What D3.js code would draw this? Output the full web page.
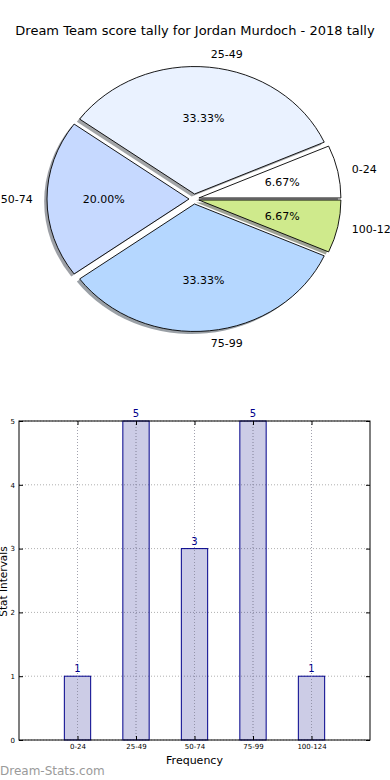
<!DOCTYPE html>
<html><head><meta charset="utf-8">
<script src="https://cdn.jsdelivr.net/npm/d3@7"></script>
<style>html,body{margin:0;padding:0;background:#fff;}svg{display:block;font-family:"DejaVu Sans",sans-serif;}</style>
</head><body>
<svg id="c" width="390" height="780"></svg>
<script>
const categories = ["0-24","25-49","50-74","75-99","100-124"];
const counts = [1,5,3,5,1];
const pieColors = ["#ffffff","#eaf2ff","#c6d9ff","#b5d7ff","#cfea8c"];
const yTicks = [0,1,2,3,4,5];
const title = "Dream Team score tally for Jordan Murdoch - 2018 tally";

const svg = d3.select("#c");

// Title
svg.append("text").attr("x",195).attr("y",34.5).attr("text-anchor","middle")
  .attr("font-size",13).attr("fill","#000").text(title);

// ---- Pie (matplotlib style: start at 3 o'clock, counter-clockwise, elliptical) ----
const cx = 194, cy = 199, rx = 142, ry = 127.5, explode = 5;
const sy = ry/rx;
const total = d3.sum(counts);
let acc = 0;
const wedges = counts.map((v,i)=>{
  const t1 = acc/total*2*Math.PI; acc += v; const t2 = acc/total*2*Math.PI;
  return {i, v, t1, t2, mid:(t1+t2)/2};
});
const arc = d3.arc().innerRadius(0).outerRadius(rx);
const pieG = svg.append("g");
// shadows
wedges.forEach(w=>{
  const ox = explode*Math.cos(w.mid), oy = -explode*Math.sin(w.mid);
  const c = d3.color(pieColors[w.i]);
  pieG.append("path")
    .attr("d", arc({startAngle:Math.PI/2 - w.t2, endAngle:Math.PI/2 - w.t1}))
    .attr("transform",`translate(${cx+ox-0.02*rx},${cy+oy+0.02*ry}) scale(1,${sy})`)
    .attr("fill",`rgb(${c.r*0.3},${c.g*0.3},${c.b*0.3})`).attr("fill-opacity",0.5);
});
wedges.forEach(w=>{
  const ox = explode*Math.cos(w.mid), oy = -explode*Math.sin(w.mid);
  pieG.append("path")
    .attr("d", arc({startAngle:Math.PI/2 - w.t2, endAngle:Math.PI/2 - w.t1}))
    .attr("transform",`translate(${cx+ox},${cy+oy}) scale(1,${sy})`)
    .attr("fill",pieColors[w.i]).attr("stroke","#000").attr("stroke-width",0.9)
    .attr("vector-effect","non-scaling-stroke").attr("stroke-linejoin","round");
});
wedges.forEach(w=>{
  const ox = explode*Math.cos(w.mid), oy = -explode*Math.sin(w.mid);
  const lx = cx+ox+1.1*rx*Math.cos(w.mid), ly = cy+oy-1.1*ry*Math.sin(w.mid);
  pieG.append("text").attr("x",lx).attr("y",ly).attr("dy","0.35em")
    .attr("text-anchor", Math.cos(w.mid)>0 ? "start":"end")
    .attr("font-size",11).attr("fill","#000").text(categories[w.i]);
  const px = cx+ox+0.6*rx*Math.cos(w.mid), py = cy+oy-0.6*ry*Math.sin(w.mid);
  pieG.append("text").attr("x",px).attr("y",py).attr("dy","0.35em")
    .attr("text-anchor","middle").attr("font-size",11).attr("fill","#000")
    .text((w.v/total*100).toFixed(2)+"%");
});

// ---- Bar chart ----
const L=19, R=370, T=421, B=740;
const x = d3.scaleLinear().domain([-1,5]).range([L,R]);
const y = d3.scaleLinear().domain([0,5]).range([B,T]);
const bw = (x(1)-x(0))*0.45;
const barG = svg.append("g");
// grid
yTicks.forEach(t=>{
  barG.append("line").attr("x1",L).attr("x2",R).attr("y1",y(t)).attr("y2",y(t))
    .attr("stroke","#b0b0b0").attr("stroke-dasharray","1,2").attr("stroke-width",1);
});
categories.forEach((c,i)=>{
  barG.append("line").attr("x1",x(i)).attr("x2",x(i)).attr("y1",T).attr("y2",B)
    .attr("stroke","#b0b0b0").attr("stroke-dasharray","1,2").attr("stroke-width",1);
});
// bars
barG.selectAll("rect.bar").data(counts).enter().append("rect")
  .attr("x",(d,i)=>x(i)-bw/2).attr("width",bw)
  .attr("y",d=>y(d)).attr("height",d=>B-y(d))
  .attr("fill","rgba(0,0,128,0.2)").attr("stroke","#00008b").attr("stroke-width",1);
// vertical grid drawn over bars
categories.forEach((c,i)=>{
  barG.append("line").attr("x1",x(i)).attr("x2",x(i)).attr("y1",T).attr("y2",B)
    .attr("stroke","#9a9aae").attr("stroke-dasharray","1,2").attr("stroke-width",1)
    .attr("stroke-opacity",0.6);
});
// value labels
barG.selectAll("text.val").data(counts).enter().append("text")
  .attr("x",(d,i)=>x(i)).attr("y",d=>y(d)-4).attr("text-anchor","middle")
  .attr("font-size",10).attr("fill","#00008b").text(d=>d);
// frame
barG.append("rect").attr("x",L).attr("y",T).attr("width",R-L).attr("height",B-T)
  .attr("fill","none").attr("stroke","#000").attr("stroke-width",1);
// axes
const yAxis = d3.axisLeft(y).tickValues(yTicks).tickSize(-4).tickPadding(4).tickFormat(d3.format("d"));
const gy = svg.append("g").attr("transform",`translate(${L},0)`).call(yAxis);
gy.select(".domain").remove();
gy.selectAll("text").attr("font-size",7).attr("font-family","DejaVu Sans");
const yAxisR = d3.axisRight(y).tickValues(yTicks).tickSize(-4).tickFormat("");
const gyr = svg.append("g").attr("transform",`translate(${R},0)`).call(yAxisR);
gyr.select(".domain").remove();
const xAxis = d3.axisBottom(x).tickValues(d3.range(categories.length)).tickSize(-4).tickPadding(4)
  .tickFormat(i=>categories[i]);
const gx = svg.append("g").attr("transform",`translate(0,${B})`).call(xAxis);
gx.select(".domain").remove();
gx.selectAll("text").attr("font-size",7).attr("font-family","DejaVu Sans");
const xAxisT = d3.axisTop(x).tickValues(d3.range(categories.length)).tickSize(-4).tickFormat("");
const gxt = svg.append("g").attr("transform",`translate(0,${T})`).call(xAxisT);
gxt.select(".domain").remove();

svg.append("text").attr("x",(L+R)/2).attr("y",764).attr("text-anchor","middle")
  .attr("font-size",11).attr("fill","#000").text("Frequency");
svg.append("text").attr("transform",`translate(7,${(T+B)/2+1}) rotate(-90)`)
  .attr("text-anchor","middle").attr("font-size",10.5).attr("fill","#000").text("Stat Intervals");
svg.append("text").attr("x",0).attr("y",775).attr("font-size",12)
  .attr("fill","#9a9a9a").text("Dream-Stats.com");
</script>
</body></html>
